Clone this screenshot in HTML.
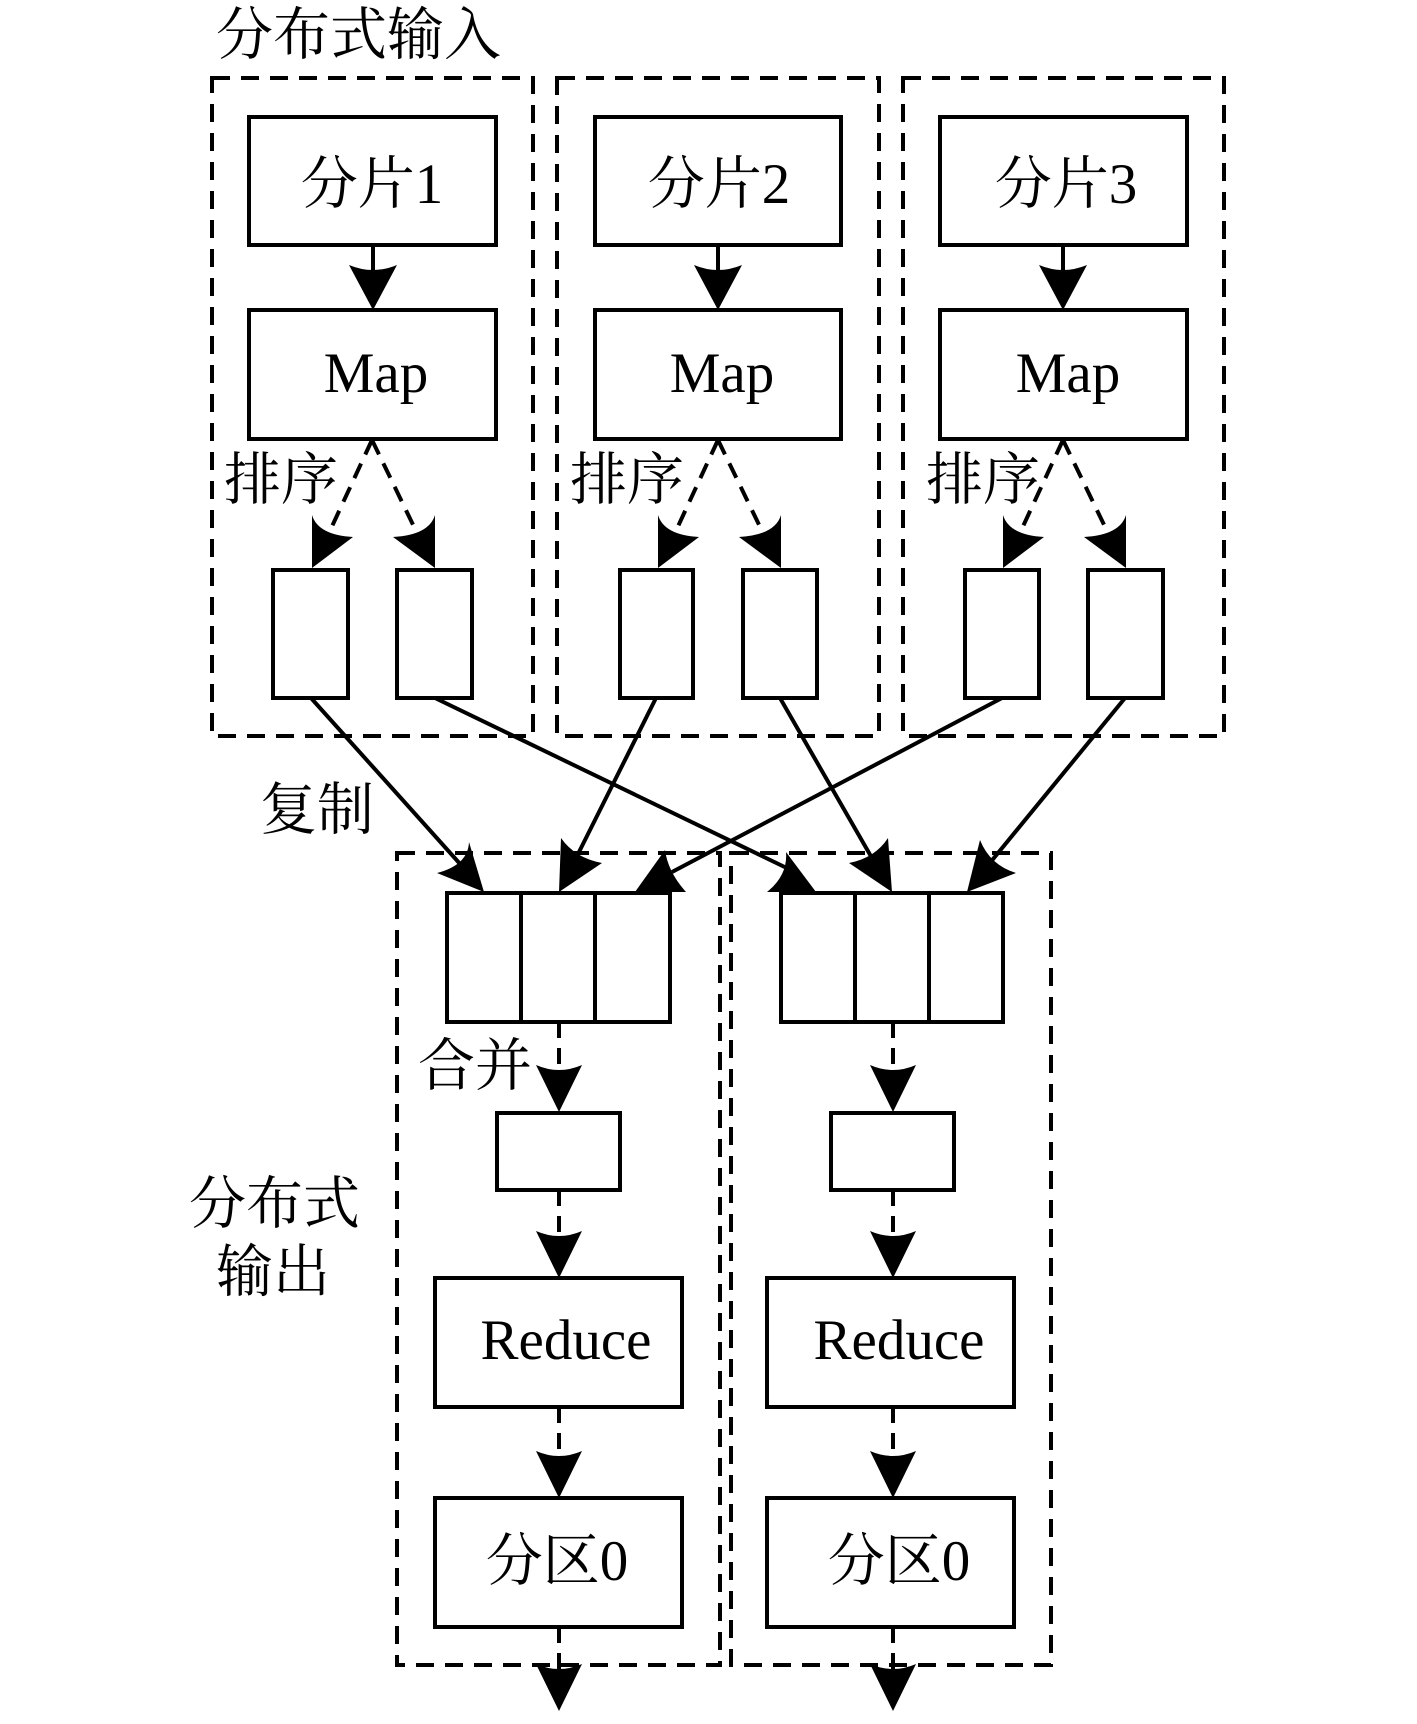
<!DOCTYPE html>
<html><head><meta charset="utf-8"><style>
html,body{margin:0;padding:0;background:#fff}
svg{display:block}
text{font-family:"Liberation Serif","Noto Serif CJK SC",serif;font-size:57px;fill:#000}
</style></head><body>
<svg width="1417" height="1724" viewBox="0 0 1417 1724" xmlns="http://www.w3.org/2000/svg">
<g fill="none" stroke="#000" stroke-width="4">
<g stroke-dasharray="18,11">
<rect x="212" y="78" width="321" height="658"/>
<rect x="557" y="78" width="322" height="658"/>
<rect x="903" y="78" width="321" height="658"/>
<rect x="397" y="853" width="323" height="812"/>
<rect x="731" y="853" width="320" height="812"/>
</g>
<rect x="249" y="117" width="247" height="128"/>
<rect x="595" y="117" width="246" height="128"/>
<rect x="940" y="117" width="247" height="128"/>
<rect x="249" y="310" width="247" height="129"/>
<rect x="595" y="310" width="246" height="129"/>
<rect x="940" y="310" width="247" height="129"/>
<rect x="273" y="570" width="75" height="128"/>
<rect x="397" y="570" width="75" height="128"/>
<rect x="620" y="570" width="73" height="128"/>
<rect x="743" y="570" width="74" height="128"/>
<rect x="965" y="570" width="74" height="128"/>
<rect x="1088" y="570" width="75" height="128"/>
<rect x="447" y="893" width="223" height="129"/>
<line x1="521" y1="893" x2="521" y2="1022"/><line x1="595" y1="893" x2="595" y2="1022"/>
<rect x="781" y="893" width="222" height="129"/>
<line x1="855" y1="893" x2="855" y2="1022"/><line x1="929" y1="893" x2="929" y2="1022"/>
<rect x="497" y="1113" width="123" height="77"/>
<rect x="831" y="1113" width="123" height="77"/>
<rect x="435" y="1278" width="247" height="129"/>
<rect x="767" y="1278" width="247" height="129"/>
<rect x="435" y="1498" width="247" height="129"/>
<rect x="767" y="1498" width="247" height="129"/>
<line x1="373" y1="245" x2="373" y2="280"/>
<line x1="718" y1="245" x2="718" y2="280"/>
<line x1="1063" y1="245" x2="1063" y2="280"/>
<g stroke-dasharray="16,10">
<line x1="372" y1="440" x2="328" y2="535"/><line x1="372" y1="440" x2="418" y2="535"/>
<line x1="718" y1="440" x2="674" y2="535"/><line x1="718" y1="440" x2="764" y2="535"/>
<line x1="1063" y1="440" x2="1019" y2="535"/><line x1="1063" y1="440" x2="1109" y2="535"/>
<line x1="559" y1="1022" x2="559" y2="1075"/><line x1="893" y1="1022" x2="893" y2="1075"/>
<line x1="559" y1="1190" x2="559" y2="1240"/><line x1="893" y1="1190" x2="893" y2="1240"/>
<line x1="559" y1="1407" x2="559" y2="1460"/><line x1="893" y1="1407" x2="893" y2="1460"/>
<line x1="559" y1="1627" x2="559" y2="1674"/><line x1="893" y1="1627" x2="893" y2="1674"/>
</g>
<line x1="311" y1="698" x2="470" y2="875"/>
<line x1="656" y1="698" x2="570" y2="870"/>
<line x1="1002" y1="698" x2="672" y2="872"/>
<line x1="435" y1="698" x2="795" y2="872"/>
<line x1="780" y1="698" x2="880" y2="872"/>
<line x1="1125" y1="698" x2="980" y2="875"/>
</g>
<g fill="#000">
<path d="M349,265 Q373,275 397,265 L373,310Z"/>
<path d="M694,265 Q718,275 742,265 L718,310Z"/>
<path d="M1039,265 Q1063,275 1087,265 L1063,310Z"/>
<path d="M312,515 Q318,535 353,537 L312,568Z"/>
<path d="M435,515 Q429,535 393,537 L435,568Z"/>
<path d="M658,515 Q664,535 699,537 L658,568Z"/>
<path d="M781,515 Q775,535 739,537 L781,568Z"/>
<path d="M1003,515 Q1009,535 1044,537 L1003,568Z"/>
<path d="M1126,515 Q1120,535 1084,537 L1126,568Z"/>
<path d="M469,842 Q468,865 437,873 L484,892Z"/>
<path d="M561,838 Q575,858 602,863 L559,892Z"/>
<path d="M665,850 Q668,872 686,892 L635,892Z"/>
<path d="M786,852 Q788,875 767,892 L816,892Z"/>
<path d="M888,838 Q875,858 849,863 L892,892Z"/>
<path d="M980,840 Q990,865 1016,873 L967,892Z"/>
<path d="M536,1065 Q559,1075 582,1065 L559,1112Z"/>
<path d="M870,1065 Q893,1075 916,1065 L893,1112Z"/>
<path d="M536,1231 Q559,1241 582,1231 L559,1278Z"/>
<path d="M870,1231 Q893,1241 916,1231 L893,1278Z"/>
<path d="M536,1451 Q559,1461 582,1451 L559,1498Z"/>
<path d="M870,1451 Q893,1461 916,1451 L893,1498Z"/>
<path d="M536,1664 Q559,1674 582,1664 L559,1711Z"/>
<path d="M870,1664 Q893,1674 916,1664 L893,1711Z"/>
</g>
<text x="216" y="54">分布式输入</text>
<text x="372" y="203" text-anchor="middle">分片1</text>
<text x="719" y="203" text-anchor="middle">分片2</text>
<text x="1066" y="203" text-anchor="middle">分片3</text>
<text x="376" y="392" text-anchor="middle">Map</text>
<text x="722" y="392" text-anchor="middle">Map</text>
<text x="1068" y="392" text-anchor="middle">Map</text>
<text x="224" y="499">排序</text>
<text x="570" y="499">排序</text>
<text x="926" y="499">排序</text>
<text x="260" y="829">复制</text>
<text x="418" y="1085">合并</text>
<text x="189" y="1223">分布式</text>
<text x="216" y="1291">输出</text>
<text x="566" y="1359" text-anchor="middle">Reduce</text>
<text x="899" y="1359" text-anchor="middle">Reduce</text>
<text x="557" y="1580" text-anchor="middle">分区0</text>
<text x="899" y="1580" text-anchor="middle">分区0</text>
</svg>
</body></html>
